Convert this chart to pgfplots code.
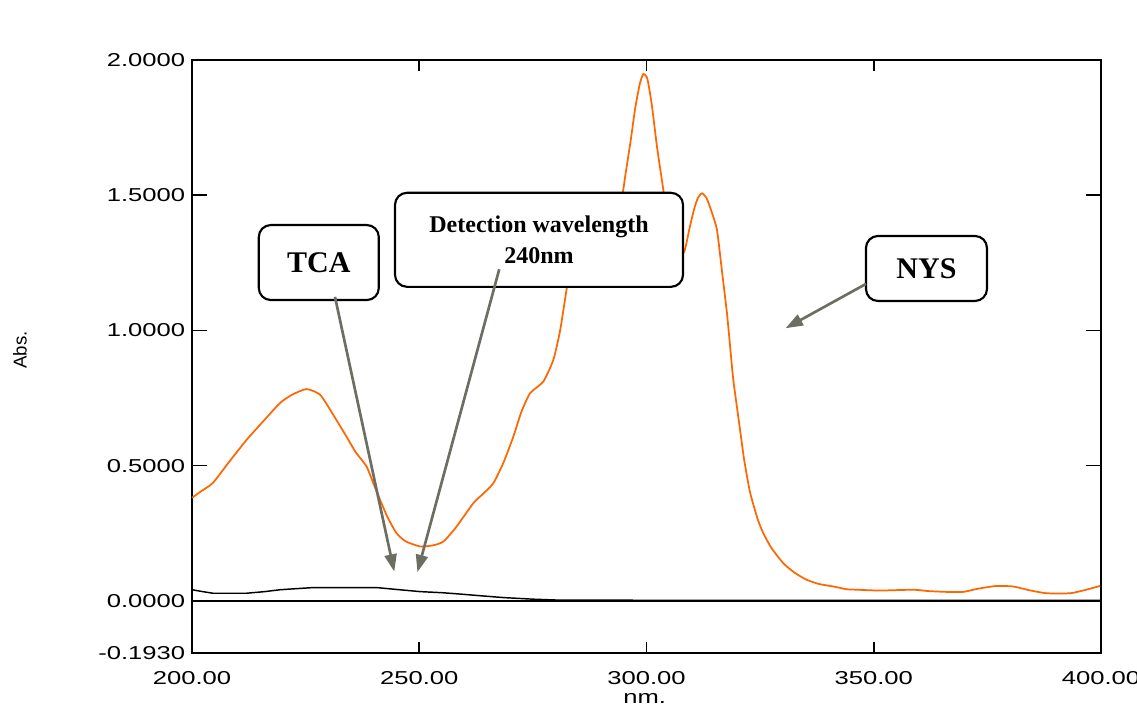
\documentclass[border=0pt]{standalone}
\usepackage{fontspec}
\setmainfont{Liberation Serif}
\newfontfamily\tickfont{Liberation Sans}
\usepackage{graphicx}
\usepackage{pgfplots}
\pgfplotsset{compat=1.18}
\usetikzlibrary{arrows.meta}
\definecolor{spec}{RGB}{255,102,0}
\definecolor{arr}{RGB}{108,110,98}
\newcommand\sx[1]{\scalebox{1.37}[1]{#1}}

\begin{document}
\begin{tikzpicture}
\path[use as bounding box] (-144pt,-40.5pt) rectangle (708.75pt,489.75pt);
\begin{axis}[
  at={(0,0)}, anchor=south west,
  scale only axis,
  width=681.75pt, height=444.75pt,
  xmin=200, xmax=400, ymin=-0.193, ymax=2,
  xtick={200,250,300,350,400},
  xticklabels={\sx{200.00},\sx{250.00},\sx{300.00},\sx{350.00},\sx{400.00}},
  ytick={-0.193,0,0.5,1,1.5,2},
  yticklabels={\sx{-0.1930},\sx{0.0000},\sx{0.5000},\sx{1.0000},\sx{1.5000},\sx{2.0000}},
  tick align=inside,
  ticklabel style={font=\tickfont\fontsize{14}{16}\selectfont},
  xticklabel style={inner sep=0pt, yshift=-13.5pt},
  yticklabel style={inner sep=0pt, xshift=-5pt},
  x tick style={/pgfplots/major tick length=8pt},
  y tick style={/pgfplots/major tick length=11.25pt},
  every tick/.style={black, line width=1.3pt},
  axis line style={line width=1.3pt},
  xlabel={\sx{nm.}}, ylabel={Abs.},
  label style={font=\tickfont\fontsize{14}{16}\selectfont},
  xlabel style={at={(axis description cs:0.498,-0.0675)}, anchor=north, inner sep=0pt},
  ylabel style={at={(axis description cs:-0.1892,0.511)}, anchor=center, inner sep=0pt},
  clip=false,
]
% baseline
\addplot[black, line width=1.5pt] coordinates {(200,0) (400,0)};
% TCA
\addplot[black, line width=1.1pt] coordinates {
(200,0.041) (202,0.035) (204.6,0.028) (212,0.028) (216,0.034) (219.4,0.041)
(223,0.045) (226.7,0.049) (240.6,0.049) (245,0.042) (250.2,0.034) (255,0.030)
(259,0.025) (264,0.018) (268.5,0.012) (275.1,0.006) (280,0.003) (300,0.002)
(320,0.002) (350,0.002) (400,0.002)
};
% NYS
\addplot[spec, line width=1.3pt, smooth, tension=0.35] coordinates {
(200,0.381) (202,0.405) (204.6,0.436) (208,0.51) (212,0.595) (216,0.67)
(219.4,0.732) (222,0.762) (225.2,0.783) (228.2,0.762) (231,0.69) (234,0.607)
(236,0.55) (238.4,0.497) (240,0.43) (241.4,0.373) (243,0.31) (245,0.25)
(247,0.22) (250.2,0.201) (253,0.205) (255.3,0.219) (258,0.27) (261.9,0.361)
(264,0.395) (266.3,0.435) (268.5,0.51) (270.7,0.607) (272.5,0.70) (274.4,0.768)
(277.3,0.811) (279.5,0.891) (281,1.0) (282.4,1.15) (283,1.2) (286,1.3)
(290,1.4) (294,1.49) (294.8,1.513) (295.3,1.569) (296.5,1.70) (297.5,1.82)
(298.5,1.91) (299.3,1.948) (300.2,1.93) (301.2,1.83) (302.3,1.68) (303.7,1.519)
(305,1.35) (306.5,1.27) (308.3,1.291) (309.5,1.38) (310.5,1.45) (311.3,1.49)
(312.2,1.507) (313.2,1.49) (314.3,1.44) (315.5,1.372) (316.6,1.22) (317.7,1.064)
(318.4,0.94) (319.1,0.817) (320.6,0.63) (321.5,0.52) (322.8,0.40) (324.5,0.30)
(325.7,0.25) (327.5,0.195) (330.1,0.139) (332.5,0.105) (335.2,0.078) (338,0.062)
(341.1,0.053) (344,0.043) (346.3,0.041) (351.4,0.038) (358.7,0.041) (362,0.036)
(366,0.033) (369.7,0.033) (373,0.045) (377,0.055) (380.7,0.053) (384,0.040)
(388,0.028) (393.2,0.028) (396.5,0.04) (399.8,0.055)
};
% boxes
\tikzset{lbl/.style={draw=black, fill=white, line width=1.6pt, rounded corners=9pt,
  inner sep=0pt, font=\bfseries}}
\node[lbl, minimum width=90pt, minimum height=56.25pt, font=\bfseries\fontsize{22.5}{26}\selectfont]
  at (axis cs:227.9,1.251) {TCA};
\node[lbl, minimum width=216pt, minimum height=70.5pt, align=center,
  font=\bfseries\fontsize{18}{23.25}\selectfont]
  at (axis cs:276.35,1.335) {Detection wavelength\\240nm};
\node[lbl, minimum width=90.75pt, minimum height=48.75pt, font=\bfseries\fontsize{22.5}{26}\selectfont]
  at (axis cs:361.6,1.229) {NYS};
% arrows
\tikzset{ar/.style={arr, line width=2pt, -{Triangle[length=13pt, width=9pt]}}}
\draw[ar] (axis cs:231.46,1.124) -- (axis cs:244.5,0.108);
\draw[ar] (axis cs:267.6,1.226) -- (axis cs:249.6,0.106);
\draw[ar] (axis cs:348.3,1.172) -- (axis cs:330.6,1.008);
\end{axis}
\end{tikzpicture}
\end{document}
